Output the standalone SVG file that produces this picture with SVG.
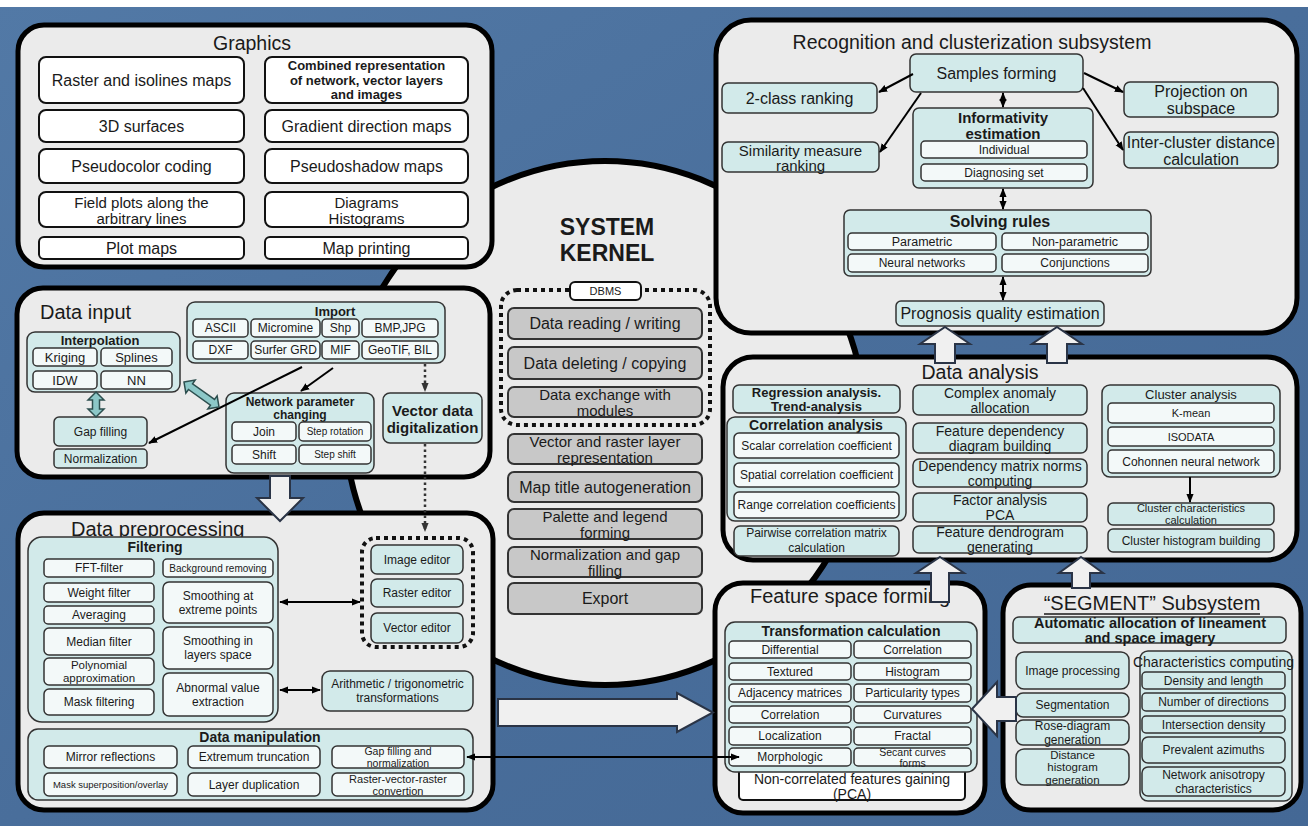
<svg xmlns="http://www.w3.org/2000/svg" width="1308" height="826" viewBox="0 0 1308 826">
<defs>
<linearGradient id="bg" x1="0" y1="0" x2="1" y2="1"><stop offset="0" stop-color="#5279a6"/><stop offset="0.5" stop-color="#496e9b"/><stop offset="1" stop-color="#446895"/></linearGradient>
<marker id="ah" viewBox="0 0 10 10" refX="9" refY="5" markerWidth="9" markerHeight="9" markerUnits="userSpaceOnUse" orient="auto-start-reverse"><path d="M0,1 L10,5 L0,9 z" fill="#000"/></marker>
<marker id="ahd" viewBox="0 0 10 10" refX="9" refY="5" markerWidth="9" markerHeight="9" markerUnits="userSpaceOnUse" orient="auto"><path d="M0,1 L10,5 L0,9 z" fill="#333"/></marker>
<style>
text,tspan{font-family:"Liberation Sans",Arial,sans-serif;fill:#1a1a1a;text-anchor:middle;dominant-baseline:central}
.l{text-anchor:start}
.b{font-weight:bold}
.s9{font-size:9.5px}.s10{font-size:10px}.s105{font-size:10.5px}.s11{font-size:11px}.s115{font-size:11.5px}.s12{font-size:12px}.s125{font-size:12.5px}.s13{font-size:13px}.s14{font-size:14px}.s145{font-size:14.5px}.s15{font-size:15px}.s16{font-size:16px}.s19{font-size:19.5px}.s20{font-size:20px}.s23{font-size:23px}
.pn{fill:#ebebeb;stroke:#000;stroke-width:5}
.gp{fill:#d2eaea;stroke:#333;stroke-width:1.5}
.cy{fill:#d2eaea;stroke:#333;stroke-width:1.5}
.li{fill:#f3f9f9;stroke:#333;stroke-width:1.5}
.wb{fill:#fff;stroke:#111;stroke-width:2}
.gb{fill:#c8c8c8;stroke:#333;stroke-width:2}
.dot{fill:none;stroke:#111;stroke-width:4;stroke-dasharray:4 4}
.ln{stroke:#000;stroke-width:2;fill:none}
.dl{stroke:#333;stroke-width:2.5;stroke-dasharray:2.5 3;fill:none}
.ho{fill:#f0f0f0;stroke:#2a3446;stroke-width:2}
.hc{fill:#8cc8c8;stroke:#2d4f4f;stroke-width:1.5}
</style>
</defs>
<rect x="0" y="0" width="1308" height="826" fill="url(#bg)"/>
<rect x="0" y="0" width="1308" height="7" fill="#fff"/>

<g id="kernel">
<ellipse cx="605" cy="423" rx="260" ry="262" fill="#ebebeb" stroke="#000" stroke-width="6"/>
<text class="s23 b" x="607" y="227">SYSTEM</text>
<text class="s23 b" x="607" y="253">KERNEL</text>
<rect class="dot" x="501" y="290" width="209" height="135" rx="16"/>
<rect class="wb" x="570" y="282" width="71" height="18" rx="5"/><text class="s11" x="605.5" y="291">DBMS</text>
<rect class="gb" x="508" y="308" width="194" height="31" rx="6"/><text class="s16" x="605" y="323.5">Data reading / writing</text>
<rect class="gb" x="508" y="347" width="194" height="32" rx="6"/><text class="s16" x="605" y="363">Data deleting / copying</text>
<rect class="gb" x="508" y="387" width="194" height="30" rx="6"/><text class="s15"><tspan x="605" y="394">Data exchange with</tspan><tspan x="605" y="410">modules</tspan></text>
<rect class="gb" x="508" y="434" width="194" height="30" rx="6"/><text class="s15"><tspan x="605" y="441">Vector and raster layer</tspan><tspan x="605" y="457">representation</tspan></text>
<rect class="gb" x="508" y="472" width="194" height="30" rx="6"/><text class="s16" x="605" y="487">Map title autogeneration</text>
<rect class="gb" x="508" y="509" width="194" height="30" rx="6"/><text class="s15"><tspan x="605" y="516">Palette and legend</tspan><tspan x="605" y="532">forming</tspan></text>
<rect class="gb" x="508" y="547" width="194" height="30" rx="6"/><text class="s15"><tspan x="605" y="554">Normalization and gap</tspan><tspan x="605" y="570">filling</tspan></text>
<rect class="gb" x="508" y="583" width="194" height="31" rx="6"/><text class="s16" x="605" y="598.5">Export</text>
</g>

<g id="graphics">
<rect class="pn" x="18" y="25" width="474" height="242" rx="26"/>
<text class="s19" x="252" y="43">Graphics</text>
<rect class="wb" x="39" y="57" width="205" height="46" rx="7"/><text class="s16" x="141.5" y="80">Raster and isolines maps</text>
<rect class="wb" x="265" y="57" width="203" height="46" rx="7"/><text class="s13 b"><tspan x="366.5" y="65">Combined representation</tspan><tspan x="366.5" y="79.5">of network, vector layers</tspan><tspan x="366.5" y="94">and images</tspan></text>
<rect class="wb" x="39" y="110" width="205" height="32" rx="7"/><text class="s16" x="141.5" y="126">3D surfaces</text>
<rect class="wb" x="265" y="110" width="203" height="32" rx="7"/><text class="s16" x="366.5" y="126">Gradient direction maps</text>
<rect class="wb" x="39" y="149" width="205" height="34" rx="7"/><text class="s16" x="141.5" y="166">Pseudocolor coding</text>
<rect class="wb" x="265" y="149" width="203" height="34" rx="7"/><text class="s16" x="366.5" y="166">Pseudoshadow maps</text>
<rect class="wb" x="39" y="192" width="205" height="35" rx="7"/><text class="s15"><tspan x="141.5" y="201.5">Field plots along the</tspan><tspan x="141.5" y="217.5">arbitrary lines</tspan></text>
<rect class="wb" x="265" y="192" width="203" height="35" rx="7"/><text class="s15"><tspan x="366.5" y="201.5">Diagrams</tspan><tspan x="366.5" y="217.5">Histograms</tspan></text>
<rect class="wb" x="39" y="237" width="205" height="22" rx="5"/><text class="s16" x="141.5" y="248">Plot maps</text>
<rect class="wb" x="265" y="237" width="203" height="22" rx="5"/><text class="s16" x="366.5" y="248">Map printing</text>
</g>

<g id="data-input">
<rect class="pn" x="17" y="288" width="473" height="189" rx="26"/>
<text class="s20 l" x="40" y="312">Data input</text>
<rect class="gp" x="187" y="302" width="258" height="61" rx="8"/>
<text class="s13 b" x="335" y="311">Import</text>
<rect class="li" x="193" y="319" width="55" height="18" rx="4"/><text class="s12" x="220.5" y="328">ASCII</text>
<rect class="li" x="251" y="319" width="69" height="18" rx="4"/><text class="s12" x="285.5" y="328">Micromine</text>
<rect class="li" x="322" y="319" width="37" height="18" rx="4"/><text class="s12" x="340.5" y="328">Shp</text>
<rect class="li" x="362" y="319" width="76" height="18" rx="4"/><text class="s12" x="400" y="328">BMP,JPG</text>
<rect class="li" x="193" y="341" width="55" height="18" rx="4"/><text class="s12" x="220.5" y="350">DXF</text>
<rect class="li" x="251" y="341" width="69" height="18" rx="4"/><text class="s12" x="285.5" y="350">Surfer GRD</text>
<rect class="li" x="322" y="341" width="37" height="18" rx="4"/><text class="s12" x="340.5" y="350">MIF</text>
<rect class="li" x="362" y="341" width="76" height="18" rx="4"/><text class="s12" x="400" y="350">GeoTIF, BIL</text>
<rect class="gp" x="27" y="332" width="153" height="60" rx="8"/>
<text class="s13 b" x="100" y="340">Interpolation</text>
<rect class="li" x="33" y="348" width="64" height="18" rx="4"/><text class="s13" x="65" y="357">Kriging</text>
<rect class="li" x="101" y="348" width="71" height="18" rx="4"/><text class="s13" x="136.5" y="357">Splines</text>
<rect class="li" x="33" y="371" width="64" height="18" rx="4"/><text class="s13" x="65" y="380">IDW</text>
<rect class="li" x="101" y="371" width="71" height="18" rx="4"/><text class="s13" x="136.5" y="380">NN</text>
<rect class="cy" x="54" y="417" width="93" height="29" rx="5"/><text class="s12" x="100.5" y="431.5">Gap filling</text>
<rect class="cy" x="54" y="449" width="93" height="19" rx="4"/><text class="s12" x="100.5" y="458.5">Normalization</text>
<rect class="gp" x="226" y="393" width="148" height="80" rx="8"/>
<text class="s12 b"><tspan x="300" y="402">Network parameter</tspan><tspan x="300" y="415">changing</tspan></text>
<rect class="li" x="232" y="422" width="64" height="19" rx="4"/><text class="s12" x="264" y="431.5">Join</text>
<rect class="li" x="299" y="422" width="72" height="19" rx="4"/><text class="s10" x="335" y="431.5">Step rotation</text>
<rect class="li" x="232" y="445" width="64" height="19" rx="4"/><text class="s12" x="264" y="454.5">Shift</text>
<rect class="li" x="299" y="445" width="72" height="19" rx="4"/><text class="s10" x="335" y="454.5">Step shift</text>
<rect class="cy" x="383" y="393" width="99" height="50" rx="7"/>
<text class="s15 b"><tspan x="432.5" y="410">Vector data</tspan><tspan x="432.5" y="427">digitalization</tspan></text>
</g>

<g id="data-preprocessing">
<rect class="pn" x="18" y="513" width="475" height="297" rx="26"/>
<text class="s20 l" x="71" y="529">Data preprocessing</text>
<rect class="gp" x="28" y="537" width="250" height="185" rx="14"/>
<text class="s14 b" x="155" y="547">Filtering</text>
<rect class="li" x="44" y="559" width="110" height="18" rx="4"/><text class="s12" x="99" y="568">FFT-filter</text>
<rect class="li" x="44" y="583" width="110" height="19" rx="4"/><text class="s12" x="99" y="592.5">Weight filter</text>
<rect class="li" x="44" y="606" width="110" height="18" rx="4"/><text class="s12" x="99" y="615">Averaging</text>
<rect class="li" x="44" y="628" width="110" height="27" rx="5"/><text class="s12" x="99" y="641.5">Median filter</text>
<rect class="li" x="44" y="658" width="110" height="27" rx="5"/><text class="s115"><tspan x="99" y="665">Polynomial</tspan><tspan x="99" y="678">approximation</tspan></text>
<rect class="li" x="44" y="689" width="110" height="26" rx="5"/><text class="s12" x="99" y="702">Mask filtering</text>
<rect class="li" x="163" y="559" width="110" height="18" rx="4"/><text class="s10" x="218" y="568">Background removing</text>
<rect class="li" x="163" y="582" width="110" height="41" rx="6"/><text class="s12"><tspan x="218" y="596">Smoothing at</tspan><tspan x="218" y="610">extreme points</tspan></text>
<rect class="li" x="163" y="627" width="110" height="42" rx="6"/><text class="s12"><tspan x="218" y="641">Smoothing in</tspan><tspan x="218" y="655">layers space</tspan></text>
<rect class="li" x="163" y="673" width="110" height="43" rx="6"/><text class="s12"><tspan x="218" y="687.5">Abnormal value</tspan><tspan x="218" y="701.5">extraction</tspan></text>
<rect class="dot" x="362" y="538" width="111" height="109" rx="14"/>
<rect class="cy" x="371" y="545" width="92" height="29" rx="6"/><text class="s12" x="417" y="559.5">Image editor</text>
<rect class="cy" x="371" y="579" width="92" height="28" rx="6"/><text class="s12" x="417" y="593">Raster editor</text>
<rect class="cy" x="371" y="613" width="92" height="30" rx="6"/><text class="s12" x="417" y="628">Vector editor</text>
<rect class="cy" x="322" y="671" width="151" height="40" rx="8"/><text class="s12"><tspan x="397.5" y="684">Arithmetic / trigonometric</tspan><tspan x="397.5" y="698">transformations</tspan></text>
<rect class="gp" x="28" y="729" width="445" height="71" rx="10"/>
<text class="s14 b" x="260" y="737">Data manipulation</text>
<rect class="li" x="44" y="746" width="133" height="22" rx="5"/><text class="s12" x="110.5" y="757">Mirror reflections</text>
<rect class="li" x="188" y="746" width="132" height="22" rx="5"/><text class="s12" x="254" y="757">Extremum truncation</text>
<rect class="li" x="332" y="746" width="132" height="22" rx="5"/><text class="s105"><tspan x="398" y="751">Gap filling and</tspan><tspan x="398" y="763">normalization</tspan></text>
<rect class="li" x="44" y="773" width="133" height="23" rx="5"/><text class="s9" x="110.5" y="784.5">Mask superposition/overlay</text>
<rect class="li" x="188" y="773" width="132" height="23" rx="5"/><text class="s12" x="254" y="784.5">Layer duplication</text>
<rect class="li" x="332" y="773" width="132" height="23" rx="5"/><text class="s11"><tspan x="398" y="778.5">Raster-vector-raster</tspan><tspan x="398" y="790.5">convertion</tspan></text>
</g>

<g id="recognition">
<rect class="pn" x="716" y="20" width="581" height="313" rx="35"/>
<text class="s19" x="972" y="42">Recognition and clusterization subsystem</text>
<rect class="cy" x="910" y="54" width="173" height="38" rx="6"/><text class="s16" x="996.5" y="73">Samples forming</text>
<rect class="cy" x="722" y="83" width="155" height="30" rx="6"/><text class="s16" x="799.5" y="98">2-class ranking</text>
<rect class="cy" x="722" y="142" width="157" height="30" rx="6"/><text class="s15"><tspan x="800.5" y="149.5">Similarity measure</tspan><tspan x="800.5" y="165">ranking</tspan></text>
<rect class="cy" x="1124" y="82" width="154" height="35" rx="6"/><text class="s16"><tspan x="1201" y="91">Projection on</tspan><tspan x="1201" y="108">subspace</tspan></text>
<rect class="cy" x="1124" y="132" width="154" height="36" rx="6"/><text class="s16"><tspan x="1201" y="141.5">Inter-cluster distance</tspan><tspan x="1201" y="158.5">calculation</tspan></text>
<rect class="gp" x="913" y="108" width="180" height="80" rx="6"/>
<text class="s15 b"><tspan x="1003" y="116.5">Informativity</tspan><tspan x="1003" y="132.5">estimation</tspan></text>
<rect class="li" x="921" y="141" width="166" height="17" rx="4"/><text class="s12" x="1004" y="149.5">Individual</text>
<rect class="li" x="921" y="164" width="166" height="17" rx="4"/><text class="s12" x="1004" y="172.5">Diagnosing set</text>
<rect class="gp" x="844" y="210" width="307" height="66" rx="6"/>
<text class="s16 b" x="1000" y="221">Solving rules</text>
<rect class="li" x="848" y="233" width="148" height="17" rx="4"/><text class="s125" x="922" y="241.5">Parametric</text>
<rect class="li" x="1002" y="233" width="146" height="17" rx="4"/><text class="s125" x="1075" y="241.5">Non-parametric</text>
<rect class="li" x="848" y="254" width="148" height="18" rx="4"/><text class="s12" x="922" y="263">Neural networks</text>
<rect class="li" x="1002" y="254" width="146" height="18" rx="4"/><text class="s12" x="1075" y="263">Conjunctions</text>
<rect class="cy" x="896" y="301" width="208" height="25" rx="5"/><text class="s16" x="1000" y="313.5">Prognosis quality estimation</text>
</g>

<g id="data-analysis">
<rect class="pn" x="723" y="357" width="574" height="203" rx="30"/>
<text class="s19" x="980" y="372">Data analysis</text>
<rect class="cy" x="733" y="385" width="167" height="28" rx="6"/><text class="s13 b"><tspan x="816.5" y="392">Regression analysis.</tspan><tspan x="816.5" y="406">Trend-analysis</tspan></text>
<rect class="gp" x="727" y="417" width="179" height="104" rx="8"/>
<text class="s14 b" x="816" y="425">Correlation analysis</text>
<rect class="li" x="734" y="433" width="165" height="25" rx="5"/><text class="s12" x="816.5" y="445.5">Scalar correlation coefficient</text>
<rect class="li" x="734" y="463" width="165" height="24" rx="5"/><text class="s12" x="816.5" y="475">Spatial correlation coefficient</text>
<rect class="li" x="734" y="492" width="165" height="26" rx="5"/><text class="s12" x="816.5" y="505">Range correlation coefficients</text>
<rect class="cy" x="734" y="526" width="165" height="30" rx="6"/><text class="s12"><tspan x="816.5" y="533">Pairwise correlation matrix</tspan><tspan x="816.5" y="548">calculation</tspan></text>
<rect class="cy" x="913" y="385" width="174" height="30" rx="6"/><text class="s14"><tspan x="1000" y="392.5">Complex anomaly</tspan><tspan x="1000" y="407.5">allocation</tspan></text>
<rect class="cy" x="913" y="423" width="174" height="30" rx="6"/><text class="s14"><tspan x="1000" y="430.5">Feature dependency</tspan><tspan x="1000" y="445.5">diagram building</tspan></text>
<rect class="cy" x="913" y="459" width="174" height="28" rx="6"/><text class="s14"><tspan x="1000" y="465.5">Dependency matrix norms</tspan><tspan x="1000" y="480.5">computing</tspan></text>
<rect class="cy" x="913" y="493" width="174" height="29" rx="6"/><text class="s14"><tspan x="1000" y="500">Factor analysis</tspan><tspan x="1000" y="515">PCA</tspan></text>
<rect class="cy" x="913" y="526" width="174" height="27" rx="6"/><text class="s14"><tspan x="1000" y="532">Feature dendrogram</tspan><tspan x="1000" y="547">generating</tspan></text>
<rect class="gp" x="1102" y="385" width="178" height="92" rx="8"/>
<text class="s13" x="1191" y="394">Cluster analysis</text>
<rect class="li" x="1108" y="403" width="166" height="20" rx="4"/><text class="s11" x="1191" y="413">K-mean</text>
<rect class="li" x="1108" y="427" width="166" height="19" rx="4"/><text class="s11" x="1191" y="436.5">ISODATA</text>
<rect class="li" x="1108" y="450" width="166" height="23" rx="4"/><text class="s12" x="1191" y="461.5">Cohonnen neural network</text>
<rect class="cy" x="1108" y="503" width="166" height="22" rx="5"/><text class="s11"><tspan x="1191" y="508">Cluster characteristics</tspan><tspan x="1191" y="520">calculation</tspan></text>
<rect class="cy" x="1108" y="529" width="166" height="23" rx="5"/><text class="s12" x="1191" y="540.5">Cluster histogram building</text>
</g>

<g id="feature-space">
<rect class="pn" x="715" y="583" width="270" height="230" rx="28"/>
<text class="s20" x="850" y="596">Feature space forming</text>
<rect class="wb" x="739" y="760" width="226" height="40" rx="4"/>
<text class="s14"><tspan x="852" y="779">Non-correlated features gaining</tspan><tspan x="852" y="794">(PCA)</tspan></text>
<rect class="gp" x="725" y="622" width="252" height="150" rx="10"/>
<text class="s14 b" x="851" y="631">Transformation calculation</text>
<rect class="li" x="729" y="641" width="122" height="17" rx="4"/><text class="s12" x="790" y="649.5">Differential</text>
<rect class="li" x="854" y="641" width="117" height="17" rx="4"/><text class="s12" x="912.5" y="649.5">Correlation</text>
<rect class="li" x="729" y="663" width="122" height="17" rx="4"/><text class="s12" x="790" y="671.5">Textured</text>
<rect class="li" x="854" y="663" width="117" height="17" rx="4"/><text class="s12" x="912.5" y="671.5">Histogram</text>
<rect class="li" x="729" y="684" width="122" height="18" rx="4"/><text class="s12" x="790" y="693">Adjacency matrices</text>
<rect class="li" x="854" y="684" width="117" height="18" rx="4"/><text class="s12" x="912.5" y="693">Particularity types</text>
<rect class="li" x="729" y="706" width="122" height="17" rx="4"/><text class="s12" x="790" y="714.5">Correlation</text>
<rect class="li" x="854" y="706" width="117" height="17" rx="4"/><text class="s12" x="912.5" y="714.5">Curvatures</text>
<rect class="li" x="729" y="727" width="122" height="18" rx="4"/><text class="s12" x="790" y="736">Localization</text>
<rect class="li" x="854" y="727" width="117" height="18" rx="4"/><text class="s12" x="912.5" y="736">Fractal</text>
<rect class="li" x="729" y="748" width="122" height="18" rx="4"/><text class="s12" x="790" y="757">Morphologic</text>
<rect class="li" x="854" y="748" width="117" height="18" rx="4"/><text class="s105"><tspan x="912.5" y="751.5">Secant curves</tspan><tspan x="912.5" y="763">forms</tspan></text>
</g>

<g id="segment">
<rect class="pn" x="1003" y="585" width="298" height="225" rx="28"/>
<text class="s20" x="1152" y="603">“SEGMENT” Subsystem</text>
<line x1="1044" y1="614" x2="1260" y2="614" stroke="#1a1a1a" stroke-width="1.5"/>
<rect class="cy" x="1013" y="617" width="273" height="26" rx="6"/>
<text class="s145 b"><tspan x="1150" y="622.5">Automatic allocation of lineament</tspan><tspan x="1150" y="638">and space imagery</tspan></text>
<rect class="cy" x="1016" y="652" width="113" height="37" rx="8"/><text class="s12" x="1072.5" y="670.5">Image processing</text>
<rect class="cy" x="1016" y="693" width="113" height="24" rx="7"/><text class="s12" x="1072.5" y="705">Segmentation</text>
<rect class="cy" x="1016" y="720" width="113" height="25" rx="7"/><text class="s12"><tspan x="1072.5" y="726">Rose-diagram</tspan><tspan x="1072.5" y="739.5">generation</tspan></text>
<rect class="cy" x="1016" y="749" width="113" height="36" rx="8"/><text class="s115"><tspan x="1072.5" y="754.5">Distance</tspan><tspan x="1072.5" y="767">histogram</tspan><tspan x="1072.5" y="779.5">generation</tspan></text>
<rect class="gp" x="1140" y="651" width="152" height="150" rx="8"/>
<text class="s14" x="1213.5" y="662">Characteristics computing</text>
<rect class="cy" x="1142" y="672" width="143" height="17" rx="4"/><text class="s12" x="1213.5" y="680.5">Density and length</text>
<rect class="cy" x="1142" y="693" width="143" height="18" rx="4"/><text class="s12" x="1213.5" y="702">Number of directions</text>
<rect class="cy" x="1142" y="716" width="143" height="17" rx="4"/><text class="s12" x="1213.5" y="724.5">Intersection density</text>
<rect class="cy" x="1142" y="737" width="143" height="26" rx="6"/><text class="s12" x="1213.5" y="750">Prevalent azimuths</text>
<rect class="cy" x="1142" y="767" width="143" height="29" rx="6"/><text class="s12"><tspan x="1213.5" y="774.5">Network anisotropy</tspan><tspan x="1213.5" y="788.5">characteristics</tspan></text>
</g>

<g id="connectors">
<line class="ln" x1="302" y1="367" x2="149" y2="443" marker-end="url(#ah)"/>
<line class="ln" x1="333" y1="368" x2="301" y2="391" marker-end="url(#ah)"/>
<line class="dl" x1="425" y1="364" x2="425" y2="391" marker-end="url(#ahd)"/>
<line class="dl" x1="425" y1="444" x2="425" y2="531" marker-end="url(#ahd)"/>
<polygon class="hc" transform="translate(96,392) rotate(90)" points="0,0 8,-8 8,-3.5 17,-3.5 17,-8 25,0 17,8 17,3.5 8,3.5 8,8"/>
<polygon class="hc" transform="translate(184,382) rotate(35.5)" points="0,0 8,-8 8,-3.5 35,-3.5 35,-8 43,0 35,8 35,3.5 8,3.5 8,8"/>
<polygon class="ho" points="270,476 290,476 290,498 303,498 280,521 257,498 270,498"/>
<line class="ln" x1="280" y1="602" x2="360" y2="602" marker-start="url(#ah)" marker-end="url(#ah)"/>
<line class="ln" x1="280" y1="690" x2="320" y2="690" marker-start="url(#ah)" marker-end="url(#ah)"/>
<line class="ln" x1="467" y1="757" x2="739" y2="757" marker-start="url(#ah)" marker-end="url(#ah)" stroke-width="1.8"/>
<polygon class="ho" points="498,699 677,699 677,693 713,712.5 677,732 677,726 498,726"/>
<line class="ln" x1="913" y1="74" x2="879" y2="92" marker-end="url(#ah)"/>
<line class="ln" x1="921" y1="93" x2="880" y2="152" marker-end="url(#ah)"/>
<line class="ln" x1="1084" y1="73" x2="1123" y2="92" marker-end="url(#ah)"/>
<line class="ln" x1="1083" y1="88" x2="1123" y2="150" marker-end="url(#ah)"/>
<line class="ln" x1="1003" y1="93" x2="1003" y2="107" marker-start="url(#ah)" marker-end="url(#ah)"/>
<line class="ln" x1="1003" y1="189" x2="1003" y2="209" marker-start="url(#ah)" marker-end="url(#ah)"/>
<line class="ln" x1="1003" y1="277" x2="1003" y2="300" marker-start="url(#ah)" marker-end="url(#ah)"/>
<polygon class="ho" points="945,327 970,344 955,344 955,363 935,363 935,344 920,344"/>
<polygon class="ho" points="1057,327 1082,344 1067,344 1067,363 1047,363 1047,344 1032,344"/>
<line class="ln" x1="1190" y1="477" x2="1190" y2="502" marker-end="url(#ah)"/>
<polygon class="ho" points="940,557 964,573 949,573 949,602 931,602 931,573 916,573"/>
<polygon class="ho" points="1081,557 1103,573 1090,573 1090,588 1072,588 1072,573 1059,573"/>
<polygon class="ho" points="972,709 997,682 997,697 1016,697 1016,721 997,721 997,736"/>
</g>
</svg>
